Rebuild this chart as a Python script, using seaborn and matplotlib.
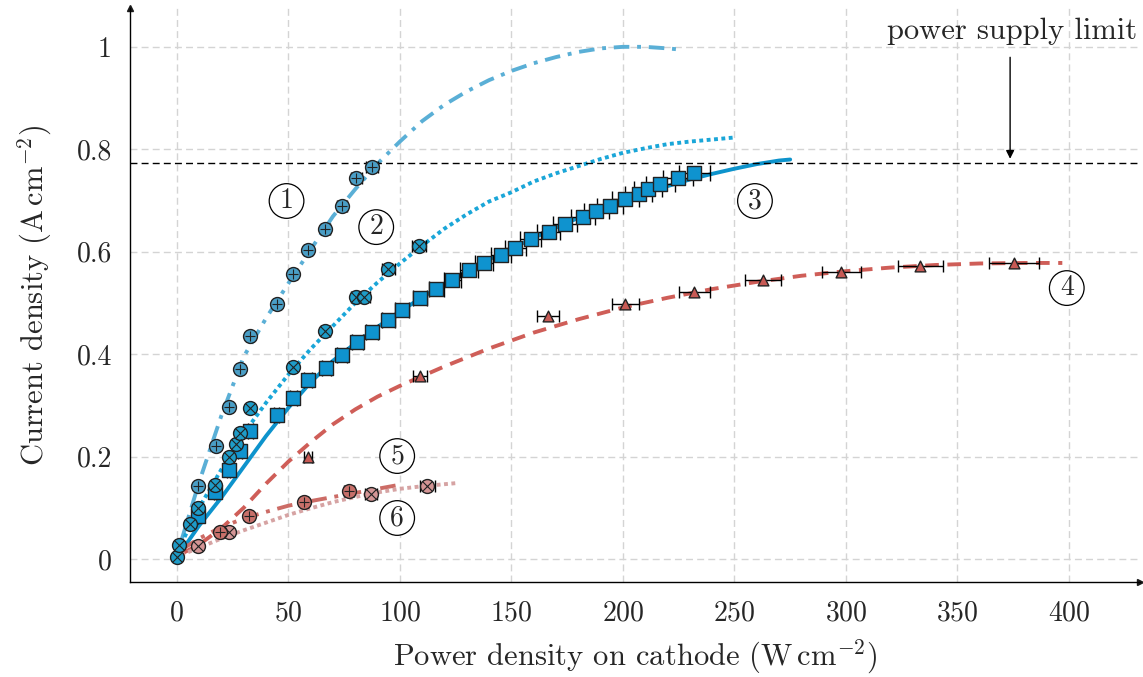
import matplotlib
matplotlib.use("Agg")
import matplotlib.pyplot as plt
import seaborn as sns

# ---------------- data ----------------
# series 1 (circle with plus, dash-dot fit)
s1_x = [9.4, 17.4, 23.2, 28.3, 32.6, 44.7, 52.3, 59.0, 66.6, 74.2, 80.4, 87.6]
s1_y = [0.143, 0.220, 0.296, 0.371, 0.435, 0.498, 0.556, 0.604, 0.645, 0.690, 0.744, 0.766]
f1_x = [2, 10, 20, 30, 40, 50, 60, 70, 80, 90, 100, 110, 120, 130, 140, 150, 160, 170, 180, 190, 200, 210, 220, 225]
f1_y = [0.035, 0.15, 0.28, 0.395, 0.47, 0.538, 0.604, 0.669, 0.722, 0.772, 0.815, 0.855, 0.887, 0.913, 0.935, 0.953, 0.968, 0.980, 0.990, 0.997, 1.0, 1.0, 0.997, 0.995]

# series 2 (circle with cross, dotted fit)
s2_x = [0.0, 1.0, 6.0, 9.4, 17.0, 23.2, 26.4, 28.3, 32.6, 52.0, 66.6, 80.4, 84.0, 94.8, 108.6]
s2_y = [0.004, 0.027, 0.068, 0.100, 0.145, 0.200, 0.225, 0.246, 0.295, 0.375, 0.445, 0.512, 0.512, 0.566, 0.611]
f2_x = [2, 10, 20, 30, 40, 50, 60, 70, 80, 90, 100, 110, 120, 130, 140, 150, 160, 170, 180, 190, 200, 210, 220, 230, 240, 250]
f2_y = [0.03, 0.10, 0.175, 0.245, 0.305, 0.36, 0.41, 0.455, 0.50, 0.54, 0.577, 0.612, 0.645, 0.673, 0.698, 0.716, 0.737, 0.753, 0.767, 0.781, 0.793, 0.802, 0.810, 0.815, 0.819, 0.823]

# series 3 (squares, solid fit)
s3_x = [9.4, 17.0, 23.2, 28.3, 33.0, 44.7, 52.3, 59.0, 67.0, 74.2, 81.0, 87.6, 94.8, 101.0, 109.0,
        116.4, 123.6, 131.0, 137.7, 145.3, 151.8, 158.7, 166.7, 174.0, 182.0, 188.0, 194.4, 201.0,
        207.0, 211.4, 216.8, 224.8, 232.0]
s3_y = [0.084, 0.130, 0.174, 0.210, 0.250, 0.281, 0.314, 0.350, 0.373, 0.398, 0.424, 0.443, 0.467, 0.486, 0.510,
        0.527, 0.545, 0.564, 0.578, 0.594, 0.607, 0.625, 0.639, 0.654, 0.668, 0.680, 0.690, 0.703,
        0.713, 0.723, 0.732, 0.744, 0.754]
f3_x = [2, 10, 20, 30, 40, 50, 60, 70, 80, 90, 100, 110, 120, 130, 140, 150, 160, 170, 180, 190, 200, 210, 220, 230, 240, 250, 260, 270, 275]
f3_y = [0.015, 0.065, 0.12, 0.18, 0.24, 0.295, 0.345, 0.387, 0.421, 0.453, 0.483, 0.511, 0.537, 0.562, 0.585, 0.606, 0.627, 0.647, 0.666, 0.684, 0.700, 0.714, 0.728, 0.741, 0.752, 0.762, 0.771, 0.778, 0.780]

# series 4 (triangles, dashed fit)
s4_x = [59.0, 109.0, 166.3, 201.0, 232.0, 262.8, 298.0, 333.4, 375.4]
s4_y = [0.200, 0.357, 0.475, 0.498, 0.521, 0.545, 0.560, 0.572, 0.578]
f4_x = [2, 10, 20, 30, 40, 50, 60, 70, 80, 90, 100, 120, 140, 160, 180, 200, 220, 240, 260, 280, 300, 320, 340, 360, 380, 397]
f4_y = [0.01, 0.028, 0.06, 0.1, 0.147, 0.19, 0.228, 0.263, 0.292, 0.317, 0.338, 0.376, 0.411, 0.442, 0.468, 0.491, 0.510, 0.527, 0.541, 0.553, 0.562, 0.569, 0.574, 0.577, 0.578, 0.578]

# series 5 (red circle with plus, dash-dot fit)
s5_x = [19.2, 32.2, 57.2, 77.3]
s5_y = [0.053, 0.084, 0.111, 0.133]
f5_x = [2, 10, 20, 30, 40, 50, 60, 70, 80, 90, 100]
f5_y = [0.018, 0.04, 0.062, 0.079, 0.092, 0.104, 0.113, 0.121, 0.129, 0.137, 0.145]

# series 6 (pink circle with cross, dotted fit)
s6_x = [9.4, 23.2, 87.2, 112.2]
s6_y = [0.025, 0.053, 0.127, 0.143]
f6_x = [2, 10, 20, 30, 40, 50, 60, 70, 80, 90, 100, 110, 120, 125]
f6_y = [0.008, 0.022, 0.040, 0.056, 0.071, 0.086, 0.099, 0.111, 0.121, 0.130, 0.137, 0.142, 0.146, 0.148]

rel_xerr = 0.03  # relative horizontal uncertainty

x_ticks = [0, 50, 100, 150, 200, 250, 300, 350, 400]
y_ticks = [0, 0.2, 0.4, 0.6, 0.8, 1.0]
y_tick_labels = ["0", "0.2", "0.4", "0.6", "0.8", "1"]
supply_limit = 0.773
labels_pos = [("1", 49.2, 0.699), ("2", 89.4, 0.648), ("3", 259.2, 0.699),
              ("4", 399.0, 0.529), ("5", 98.8, 0.201), ("6", 98.8, 0.080)]

# ---------------- style ----------------
sns.set_theme(style="white")
plt.rcParams["font.family"] = "serif"
plt.rcParams["font.serif"] = ["cmr10", "DejaVu Serif"]
plt.rcParams["mathtext.fontset"] = "cm"
plt.rcParams["axes.formatter.use_mathtext"] = True
plt.rcParams["axes.unicode_minus"] = False

fig = plt.figure(figsize=(11.43, 6.77), dpi=100)
ax = fig.add_axes([0.1137, 0.1403, 0.884, 0.848])

c1_line, c1_mk = "#5aafd6", "#4a9ec6"
c2_line, c2_mk = "#1aa6d8", "#1e9cc8"
c3_line, c3_mk = "#0d93cc", "#0f93cf"
c4_line, c4_mk = "#cf5e58", "#c85a55"
c5_line, c5_mk = "#cc6c66", "#c8706a"
c6_line, c6_mk = "#d6a3a3", "#d49595"

lw = 2.8
sns.lineplot(x=f1_x, y=f1_y, ax=ax, color=c1_line, lw=lw, linestyle=(0, (4, 2, 1, 2)), sort=False, estimator=None, zorder=2)
sns.lineplot(x=f2_x, y=f2_y, ax=ax, color=c2_line, lw=lw, linestyle=(0, (1, 0.9)), sort=False, estimator=None, zorder=2)
sns.lineplot(x=f3_x, y=f3_y, ax=ax, color=c3_line, lw=lw, linestyle="-", sort=False, estimator=None, zorder=2)
sns.lineplot(x=f4_x, y=f4_y, ax=ax, color=c4_line, lw=lw, linestyle=(0, (3.5, 2.2)), sort=False, estimator=None, zorder=2)
sns.lineplot(x=f5_x, y=f5_y, ax=ax, color=c5_line, lw=lw, linestyle=(0, (4, 2, 1, 2)), sort=False, estimator=None, zorder=2)
sns.lineplot(x=f6_x, y=f6_y, ax=ax, color=c6_line, lw=lw, linestyle=(0, (1, 0.9)), sort=False, estimator=None, zorder=2)


def err(xs, ys, cap):
    ax.errorbar(xs, ys, xerr=[rel_xerr * v for v in xs], fmt="none", ecolor="black",
                elinewidth=1.0, capsize=cap, capthick=1.0, zorder=3)


def marked(xs, ys, color, marker, size, inner=None, cap=4):
    err(xs, ys, cap)
    sns.scatterplot(x=xs, y=ys, ax=ax, color=color, marker=marker, s=size,
                    edgecolor="#222222", linewidth=1.0, zorder=4)
    if inner is not None:
        ax.scatter(xs, ys, marker=inner, s=size * 0.55, color="#222222", linewidths=0.8, zorder=5)


marked(s6_x, s6_y, c6_mk, "o", 100, inner="x")
marked(s5_x, s5_y, c5_mk, "o", 100, inner="+")
marked(s4_x, s4_y, c4_mk, "^", 60, cap=4)
marked(s3_x, s3_y, c3_mk, "s", 115, cap=6)
marked(s2_x, s2_y, c2_mk, "o", 100, inner="x")
marked(s1_x, s1_y, c1_mk, "o", 100, inner="+")

# power supply limit
ax.axhline(supply_limit, color="black", lw=1.0, linestyle=(0, (5, 3)), zorder=2)
ax.annotate("", xy=(373.6, supply_limit + 0.003), xytext=(373.6, 0.985),
            arrowprops=dict(arrowstyle="-|>", color="black", lw=1.0, mutation_scale=12))
ax.text(374.5, 1.03, "power supply limit", ha="center", va="center", fontsize=22)

for t, x, y in labels_pos:
    ax.text(x, y, t, ha="center", va="center", fontsize=20,
            bbox=dict(boxstyle="circle,pad=0.15", fc="white", ec="black", lw=0.9))

ax.set_xlim(-21, 432)
ax.set_ylim(-0.045, 1.076)
ax.set_xticks(x_ticks)
ax.set_yticks(y_ticks)
ax.set_yticklabels(y_tick_labels)
ax.tick_params(axis="both", direction="out", length=6, width=1, labelsize=20, color="black", pad=7)
ax.grid(True, color="#d4d4d4", linestyle=(0, (5, 3)), lw=1.0)
ax.set_axisbelow(True)
for side in ["top", "right"]:
    ax.spines[side].set_visible(False)
for side in ["left", "bottom"]:
    ax.spines[side].set_color("black")
    ax.spines[side].set_linewidth(1.0)
ax.plot(1, 0, ">k", transform=ax.transAxes, clip_on=False, markersize=5)
ax.plot(0, 1, "^k", transform=ax.transAxes, clip_on=False, markersize=5)

ax.set_xlabel(r"Power density on cathode (W$\,$cm$^{-2}$)", fontsize=22, labelpad=8)
ax.set_ylabel(r"Current density (A$\,$cm$^{-2}$)", fontsize=22, labelpad=16)

fig.savefig("out.png", dpi=100)
